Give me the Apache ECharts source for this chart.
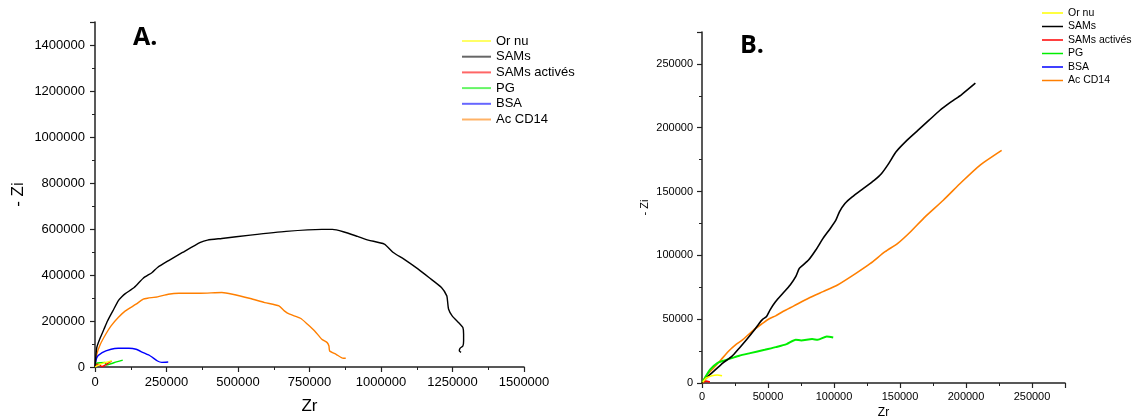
<!DOCTYPE html>
<html>
<head>
<meta charset="utf-8">
<script src="https://cdn.jsdelivr.net/npm/echarts@6/dist/echarts.min.js"></script>
<style>
html,body{margin:0;padding:0;background:#fff;}
#c{width:1134px;height:417px;}
</style>
</head>
<body>
<div id="c"></div>
<script>
// ---------- Data ----------
const seriesNames = ['Or nu', 'SAMs', 'SAMs activés', 'PG', 'BSA', 'Ac CD14'];
const seriesColors = ['#ffff00', '#000000', '#ff0000', '#00ee00', '#0000ff', '#ff7f00'];

// Panel A
const A_orNu = [[0,0],[15000,10000],[30000,18000],[45000,22000],[58000,28000]];
const A_sams = [[0,0],[6200,84200],[18700,127800],[31200,164000],[43700,200000],[62400,244000],[81200,287500],[93700,305000],[106000,319000],[137000,345600],[168600,386000],[199800,411000],[218600,432700],[256000,461700],[306000,498000],[368400,541600],[393400,551800],[443400,559000],[543300,573500],[668200,589500],[793000,598200],[830500,598200],[868000,588000],[918000,567700],[955400,551800],[1011700,534300],[1042800,498000],[1080200,469000],[1130200,425400],[1167700,389100],[1211400,345600],[1230100,309300],[1232600,287500],[1236400,251200],[1248800,222200],[1273800,190200],[1286300,171300],[1288800,142300],[1288800,113300],[1286300,91500],[1276300,81300],[1273800,69700],[1280000,63900]];
const A_samsAct = [[0,0],[8000,12000],[15000,10000],[25000,2000],[35000,8000],[45000,16000],[58000,25000]];
const A_pg = [[0,0],[5000,16000],[20000,19000],[35000,20000],[40000,9000],[55000,14000],[75000,22000],[97000,30000]];
const A_bsa = [[0,0],[6200,40700],[25000,62400],[56200,77000],[81200,81300],[118600,81300],[143600,77000],[168600,62400],[193600,47900],[218600,26100],[233500,20300],[256000,21800]];
const A_cd14 = [[0,0],[6200,55200],[18700,98700],[37500,142300],[56200,178600],[81200,214900],[106200,243900],[143600,273000],[168600,294800],[183600,299100],[218600,305000],[256000,316500],[293500,320900],[368400,320900],[443400,323800],[480800,316500],[543300,297700],[593200,280200],[643200,265700],[662000,243900],[680600,229400],[718100,212000],[743100,185900],[768100,156800],[793000,120500],[811800,106000],[818000,91500],[820500,69700],[843000,55200],[868000,37800],[876700,37800]];

// Panel B
const B_orNu = [[500,500],[3300,3900],[7500,5700],[11600,6300],[15200,5700]];
const B_sams = [[0,0],[3300,3900],[8800,9100],[15700,15600],[22600,20800],[28200,27300],[33700,33900],[39200,40900],[43400,46900],[46100,50000],[48900,52100],[51600,57300],[55800,63800],[61300,70300],[66800,76800],[71000,83300],[73700,89800],[76500,92400],[80700,96300],[86200,104200],[91700,113300],[97200,121100],[101400,127600],[104100,134100],[108300,140600],[113800,145800],[122100,152300],[130400,158800],[135900,164000],[141400,171900],[146900,181000],[155200,190100],[163500,197900],[171800,205700],[180100,213500],[188400,220000],[196700,226000],[207100,234900]];
const B_samsAct = [[0,0],[3000,1500],[6000,800]];
const B_pg = [[0,0],[6100,10400],[11600,15600],[17100,17700],[22600,19500],[28200,21400],[36500,23400],[47500,26000],[55800,28100],[64100,30500],[71000,33900],[75100,33300],[83400,34400],[87600,33900],[94500,36500],[99400,35700]];
const B_bsa = [];
const B_cd14 = [[0,0],[3300,5700],[8800,11700],[14400,18200],[19900,24700],[25400,29900],[30900,33900],[39200,41700],[46100,46900],[50300,50000],[55800,52600],[61300,56000],[69600,60400],[80700,66400],[91700,71600],[102700,76800],[116600,85900],[127600,93700],[138700,102900],[148300,109400],[158000,118500],[169000,130200],[182800,143200],[196700,157500],[210500,170600],[227000,182300]];

// Axis settings
const A_xMax = 1500000, A_xStep = 250000;
const A_yMax = 1500000, A_yStep = 200000;
const B_max = 275000, B_step = 50000;

const dataA = [A_orNu, A_sams, A_samsAct, A_pg, A_bsa, A_cd14];
const dataB = [B_orNu, B_sams, B_samsAct, B_pg, B_bsa, B_cd14];

// ---------- Chart ----------
const FONT = '"Liberation Sans", Arial, sans-serif';
const chart = echarts.init(document.getElementById('c'), null, {renderer: 'canvas'});

function axisBase() {
  return {
    type: 'value',
    splitLine: {show: false},
    axisLine: {show: true, onZero: false, lineStyle: {color: '#222', width: 1.5}},
    axisTick: {show: true, inside: false, length: 5, lineStyle: {color: '#222', width: 1.2}},
    minorTick: {show: true, splitNumber: 2, length: 3, lineStyle: {color: '#222', width: 1}}
  };
}
function hideAbove(limit) {
  return function (v) { return v > limit ? '' : String(v); };
}

const series = [];
seriesNames.forEach(function (n, i) {
  series.push({
    name: n, type: 'line', xAxisIndex: 0, yAxisIndex: 0, data: dataA[i],
    showSymbol: false, symbol: 'none', smooth: 0.2, animation: false,
    lineStyle: {color: seriesColors[i], width: 1.4}, itemStyle: {color: seriesColors[i]}, z: 10 - i
  });
});
seriesNames.forEach(function (n, i) {
  series.push({
    name: n, type: 'line', xAxisIndex: 1, yAxisIndex: 1, data: dataB[i],
    showSymbol: false, symbol: 'none', smooth: 0.2, animation: false,
    lineStyle: {color: seriesColors[i], width: i === 3 ? 2 : 1.6}, itemStyle: {color: seriesColors[i]}, z: 10 - i
  });
});

const option = {
  backgroundColor: '#fff',
  animation: false,
  grid: [
    {left: 95, top: 22, right: 610, bottom: 50, containLabel: false, outerBoundsMode: 'none'},
    {left: 702, top: 32, right: 69, bottom: 34, containLabel: false, outerBoundsMode: 'none'}
  ],
  xAxis: [
    Object.assign(axisBase(), {
      gridIndex: 0, min: 0, max: A_xMax, interval: A_xStep,
      name: 'Zr', nameLocation: 'middle', nameGap: 31,
      nameTextStyle: {color: '#000', fontFamily: FONT, fontSize: 17},
      axisLabel: {color: '#000', fontFamily: FONT, fontSize: 13, margin: 9, formatter: hideAbove(A_xMax)}
    }),
    Object.assign(axisBase(), {
      gridIndex: 1, min: 0, max: B_max, interval: B_step,
      name: 'Zr', nameLocation: 'middle', nameGap: 23,
      nameTextStyle: {color: '#000', fontFamily: FONT, fontSize: 12},
      axisLabel: {color: '#000', fontFamily: FONT, fontSize: 11, margin: 8, formatter: hideAbove(250000)}
    })
  ],
  yAxis: [
    Object.assign(axisBase(), {
      gridIndex: 0, min: 0, max: A_yMax, interval: A_yStep,
      name: '- Zi', nameLocation: 'middle', nameGap: 68,
      nameTextStyle: {color: '#000', fontFamily: FONT, fontSize: 17},
      axisLabel: {color: '#000', fontFamily: FONT, fontSize: 13, margin: 10, formatter: hideAbove(1400000)}
    }),
    Object.assign(axisBase(), {
      gridIndex: 1, min: 0, max: B_max, interval: B_step,
      name: '- Zi', nameLocation: 'middle', nameGap: 52,
      nameTextStyle: {color: '#000', fontFamily: FONT, fontSize: 11},
      axisLabel: {color: '#000', fontFamily: FONT, fontSize: 11, margin: 9, formatter: hideAbove(250000)}
    })
  ],
  legend: [
    {
      orient: 'vertical', left: 462, top: 34, padding: 0, icon: 'rect', itemWidth: 29, itemHeight: 2, itemGap: 1.7,
      data: seriesNames.map(function (n) { return {name: n, itemStyle: {opacity: 0.6}}; }),
      textStyle: {color: '#000', fontFamily: FONT, fontSize: 13, lineHeight: 14},
      selectedMode: false
    },
    {
      orient: 'vertical', left: 1042, top: 7, padding: 0, icon: 'rect', itemWidth: 21, itemHeight: 1.5, itemGap: 1.5,
      data: seriesNames,
      textStyle: {color: '#000', fontFamily: FONT, fontSize: 10.5, lineHeight: 12},
      selectedMode: false
    }
  ],
  graphic: [
    {type: 'text', left: 133, top: 25, style: {text: 'A.', fontFamily: '"Open Sans", "Liberation Sans", sans-serif', fontWeight: 'bold', fontSize: 25, fill: '#000'}},
    {type: 'text', left: 740, top: 33, style: {text: 'B.', fontFamily: '"Open Sans", "Liberation Sans", sans-serif', fontWeight: 'bold', fontSize: 25, fill: '#000'}}
  ],
  series: series
};
chart.setOption(option);
</script>
</body>
</html>
